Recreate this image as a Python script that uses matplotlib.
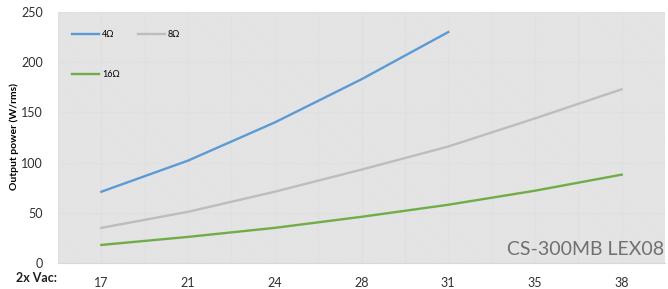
import matplotlib
matplotlib.use("Agg")
import matplotlib.pyplot as plt
from matplotlib.patches import Rectangle
import numpy as np

plt.rcParams['font.family'] = ['Lato', 'DejaVu Sans']
plt.rcParams['hatch.linewidth'] = 0.5

categories = ['17', '21', '24', '28', '31', '35', '38']
p4 = [71, 102, 140, 183, 230]
p8 = [35, 51, 71, 93, 116, 144, 173]
p16 = [18, 26, 35, 46, 58, 72, 88]

fig = plt.figure(figsize=(6.68, 2.89), dpi=100)
ax = fig.add_axes([58/668, 1-263/289, (665-58)/668, (263-12)/289])

ax.set_xlim(-0.5, 6.5)
ax.set_ylim(0, 250)
ax.add_patch(Rectangle((0, 0), 1, 1, transform=ax.transAxes, facecolor='white',
                       edgecolor='#d9d9d9', linewidth=0, hatch='\\' * 24, zorder=0))
ax.set_facecolor('white')

x = np.arange(len(categories))
l4, = ax.plot(x[:len(p4)], p4, color='#5b9bd5', lw=1.7, label='4Ω', zorder=3)
l8, = ax.plot(x, p8, color='#bdbdbd', lw=1.7, label='8Ω', zorder=3)
l16, = ax.plot(x, p16, color='#70ad47', lw=1.7, label='16Ω', zorder=3)

ax.set_xticks(x)
ax.set_xticklabels(categories)
ax.set_xticks(np.arange(-0.5, 6.51, 0.5), minor=True)
ax.set_yticks([0, 50, 100, 150, 200, 250])
ax.grid(True, which='minor', axis='x', color='#e0e0e0', lw=0.8, zorder=1)
ax.grid(True, which='major', axis='both', color='#e0e0e0', lw=0.8, zorder=1)
ax.set_axisbelow(True)
ax.tick_params(axis='both', which='both', length=0, labelsize=9, colors='#303030')
ax.tick_params(axis='x', pad=10)
ax.tick_params(axis='y', pad=11)
for s in ['top', 'right', 'left']:
    ax.spines[s].set_visible(False)
ax.spines['bottom'].set_color('#d9d9d9')

ax.set_ylabel('Output power (W/rms)', fontsize=7.5, fontweight='bold')
ax.yaxis.set_label_coords((19 - 58) / 607, (263 - 137) / 251)
fig.text(36/668, 1-278/289, '2x Vac:', fontsize=9, fontweight='bold', ha='center', va='center', color='#202020')

ax.text(0.998, 0.02, 'CS-300MB LEX08', transform=ax.transAxes, ha='right', va='bottom',
        fontsize=14, color='#707070', zorder=4)

leg = ax.legend(handles=[l4, l16, l8], loc='upper left', ncol=2, frameon=False, fontsize=6.5,
                handlelength=3.0, handletextpad=0.3, columnspacing=2.0, labelspacing=3.4,
                bbox_to_anchor=(0.01, 0.96))

fig.savefig('out.png', dpi=100)
